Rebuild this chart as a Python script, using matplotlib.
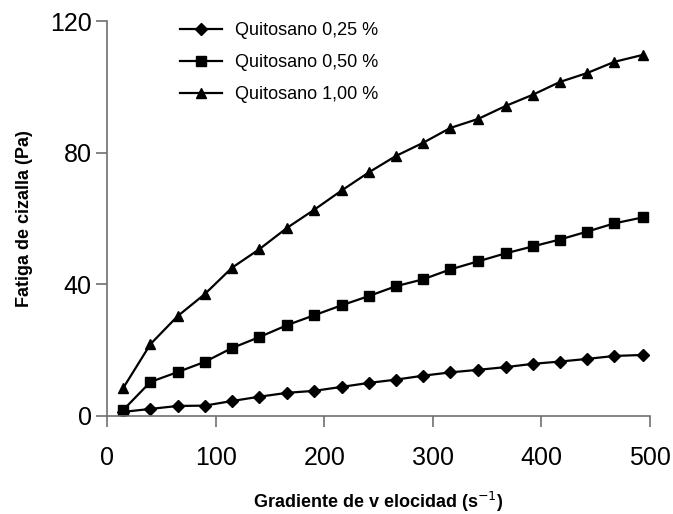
import matplotlib
matplotlib.use("Agg")
import matplotlib.pyplot as plt

# shear rate (1/s)
gradiente = [15, 40, 65, 90, 115, 140, 166, 191, 216, 241,
             266, 291, 316, 342, 367, 392, 417, 442, 467, 493]

# shear stress (Pa) for each chitosan concentration
q025 = [1.2, 2.1, 3.0, 3.1, 4.5, 5.8, 7.0, 7.6, 8.8, 10.0,
        11.0, 12.2, 13.2, 14.0, 14.8, 15.8, 16.5, 17.3, 18.2, 18.5]
q050 = [1.8, 10.3, 13.3, 16.4, 20.6, 23.9, 27.6, 30.6, 33.6, 36.4,
        39.4, 41.5, 44.5, 47.0, 49.4, 51.5, 53.6, 56.0, 58.5, 60.3]
q100 = [8.5, 21.8, 30.3, 37.0, 45.0, 50.6, 57.2, 62.7, 68.5, 74.0,
        79.0, 83.0, 87.5, 90.3, 94.2, 97.6, 101.5, 104.2, 107.6, 109.7]

etiquetas = ['Quitosano 0,25 %', 'Quitosano 0,50 %', 'Quitosano 1,00 %']

plt.rcParams['font.family'] = ['Liberation Sans', 'DejaVu Sans']

fig = plt.figure(figsize=(6.73, 5.14), dpi=100)
ax = fig.add_axes([0.159, 0.191, 0.807, 0.768])

ax.plot(gradiente, q025, color='black', lw=1.6, marker='D', ms=6, label=etiquetas[0])
ax.plot(gradiente, q050, color='black', lw=1.6, marker='s', ms=6.5, label=etiquetas[1])
ax.plot(gradiente, q100, color='black', lw=1.6, marker='^', ms=7, label=etiquetas[2])

ax.set_xlim(0, 500)
ax.set_ylim(0, 120)
ax.set_xticks([0, 100, 200, 300, 400, 500])
ax.set_yticks([0, 40, 80, 120])

for s in ['top', 'right']:
    ax.spines[s].set_visible(False)
for s in ['left', 'bottom']:
    ax.spines[s].set_color('#707070')
    ax.spines[s].set_linewidth(1.2)
ax.tick_params(direction='out', length=8, width=1.2, color='#707070',
               labelsize=18, pad=3)
ax.tick_params(axis='x', pad=14)

ax.set_xlabel('Gradiente de v elocidad (s$^{-1}$)', fontsize=13, fontweight='bold', labelpad=14)
ax.set_ylabel('Fatiga de cizalla (Pa)', fontsize=13, fontweight='bold', labelpad=12)

ax.legend(loc='upper left', bbox_to_anchor=(0.118, 1.02), frameon=False,
          fontsize=13, handlelength=2.3, handletextpad=0.75, labelspacing=0.83,
          borderpad=0)

plt.savefig('out.png', dpi=100)
